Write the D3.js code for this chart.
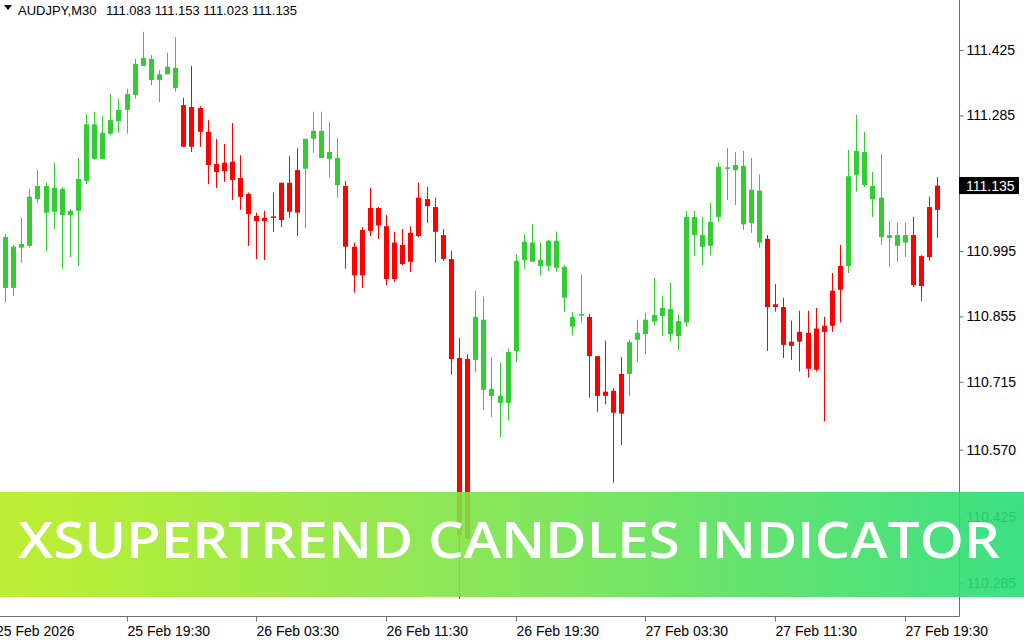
<!DOCTYPE html>
<html><head><meta charset="utf-8">
<script src="https://cdn.jsdelivr.net/npm/d3@7"></script>
<style>html,body{margin:0;padding:0;background:#fff;overflow:hidden}svg{display:block}</style>
</head><body>
<script>
// ---------- data ----------
const symbolTitle = "AUDJPY,M30";
const headerValues = ["111.083", "111.153", "111.023", "111.135"];
const opens = [111.025,110.916,111.002,111.006,111.106,111.134,111.079,111.128,111.072,111.081,
  111.145,111.266,111.192,111.246,111.273,111.297,111.329,111.391,111.406,111.361,
  111.373,111.387,111.307,111.303,111.250,111.250,111.181,111.166,111.186,111.151,
  111.117,111.070,111.059,111.067,111.061,111.141,111.077,111.171,111.235,111.252,
  111.192,111.194,111.134,111.004,110.943,111.038,111.087,111.048,110.935,111.008,
  110.972,111.027,111.106,111.089,111.029,110.978,110.766,110.379,110.762,110.848,
  110.700,110.685,110.670,110.781,110.976,111.013,110.976,110.963,111.017,110.961,
  110.854,110.857,110.854,110.770,110.685,110.696,110.647,110.732,110.805,110.817,
  110.844,110.856,110.871,110.813,110.842,111.068,111.029,111.006,111.068,111.172,
  111.168,111.177,111.055,111.124,111.021,110.875,110.875,110.792,110.801,110.820,
  110.741,110.835,110.835,110.912,110.963,111.158,111.207,111.134,111.109,111.023,
  111.029,111.013,111.029,110.920,110.982,111.083];
const highs = [111.031,111.008,111.066,111.128,111.168,111.141,111.184,111.132,111.085,111.194,
  111.288,111.293,111.284,111.331,111.321,111.342,111.406,111.464,111.414,111.382,
  111.419,111.453,111.323,111.391,111.305,111.275,111.235,111.224,111.269,111.200,
  111.120,111.077,111.081,111.120,111.141,111.198,111.215,111.235,111.293,111.293,
  111.271,111.237,111.145,111.013,111.046,111.130,111.089,111.072,111.036,111.042,
  111.048,111.141,111.132,111.109,111.042,110.995,110.809,110.774,110.910,110.897,
  110.768,110.756,110.786,110.988,111.031,111.052,111.013,111.019,111.036,110.965,
  110.865,110.945,110.860,110.770,110.803,110.702,110.768,110.805,110.848,110.863,
  110.937,110.899,110.927,110.860,111.081,111.081,111.068,111.098,111.184,111.215,
  111.207,111.209,111.194,111.159,111.029,110.924,110.895,110.846,110.867,110.867,
  110.873,110.854,110.948,111.008,111.211,111.286,111.250,111.164,111.202,111.059,
  111.055,111.055,111.068,110.986,111.111,111.153];
const lows = [110.886,110.899,110.970,111.002,111.098,110.995,111.042,110.957,110.982,110.963,
  111.138,111.191,111.191,111.242,111.248,111.246,111.321,111.391,111.350,111.314,
  111.373,111.336,111.217,111.207,111.218,111.138,111.130,111.143,111.104,111.083,
  111.006,110.978,110.976,111.036,111.046,111.066,111.027,111.044,111.205,111.194,
  111.153,111.109,110.957,110.906,110.916,111.027,111.021,110.922,110.929,110.965,
  110.950,111.025,111.055,110.970,110.974,110.730,110.251,110.377,110.735,110.655,
  110.640,110.597,110.632,110.758,110.957,110.972,110.943,110.952,110.950,110.865,
  110.815,110.842,110.681,110.651,110.667,110.499,110.580,110.685,110.758,110.774,
  110.835,110.813,110.801,110.783,110.833,110.984,110.965,110.986,111.057,111.104,
  111.093,111.040,111.034,111.002,110.781,110.865,110.766,110.762,110.737,110.724,
  110.737,110.630,110.822,110.842,110.948,111.122,111.132,111.068,111.008,110.961,
  110.972,110.982,110.918,110.888,110.974,111.023];
const closes = [110.916,111.004,111.010,111.111,111.134,111.077,111.130,111.072,111.081,111.149,
  111.266,111.192,111.248,111.275,111.297,111.331,111.395,111.408,111.361,111.373,
  111.389,111.344,111.218,111.218,111.301,111.179,111.164,111.184,111.147,111.111,
  111.074,111.059,111.066,111.069,111.141,111.079,111.168,111.235,111.252,111.194,
  111.207,111.136,111.004,110.943,111.040,111.087,111.050,110.935,111.013,110.967,
  111.034,111.109,111.091,111.036,110.978,110.764,110.387,110.764,110.854,110.698,
  110.685,110.670,110.779,110.974,111.015,110.972,110.963,111.017,110.959,110.895,
  110.833,110.860,110.770,110.685,110.694,110.649,110.732,110.800,110.820,110.848,
  110.858,110.873,110.817,110.845,111.068,111.029,111.004,111.057,111.175,111.174,
  111.179,111.052,111.126,111.013,110.875,110.881,110.794,110.801,110.822,110.743,
  110.829,110.822,110.910,110.963,111.155,111.209,111.136,111.106,111.025,111.029,
  111.006,111.029,110.922,110.984,111.089,111.135];
// supertrend direction per bar: u = up (green), d = down (red)
const trend = ["uuuuuuuuuuuuuuuuuuuuuu", "ddddddddddddddd", "uuuuu", "dddddddddddddddd",
  "uuuuuuuuuuuuuu", "ddddd", "uuuuuuuuuuuuuuuuu", "dddddddddd", "uuuuuuuu", "dddd"].join("");
const yTickValues = [111.425, 111.285, 110.995, 110.855, 110.715, 110.570, 110.425, 110.285];
const xTickIndex = [15, 31, 47, 63, 79, 95, 111];
const xTickLabels = ["25 Feb 19:30", "26 Feb 03:30", "26 Feb 11:30", "26 Feb 19:30",
  "27 Feb 03:30", "27 Feb 11:30", "27 Feb 19:30"];
const firstDateLabel = "25 Feb 2026";
const lastPrice = 111.135;
const bannerText = "XSUPERTREND CANDLES INDICATOR";

// ---------- layout ----------
const W = 1024, H = 640, plotRight = 959, plotBottom = 616;
const UP = "#32cd32", DOWN = "#ff0000", AXIS = "#707070";
const axisFont = "'Liberation Sans', Arial, sans-serif";

const bars = opens.map((o, i) => ({ i, o, h: highs[i], l: lows[i], c: closes[i], t: trend[i] }));

const x = d3.scaleLinear().domain([0, bars.length - 1]).range([5, 937.3]);
const y = d3.scaleLinear().domain([110.214, 111.532]).range([plotBottom, 0]);

const svg = d3.select("body").append("svg").attr("width", W).attr("height", H);
svg.append("rect").attr("width", W).attr("height", H).attr("fill", "#fff");

// candles
const cg = svg.append("g");
const cand = cg.selectAll("g.c").data(bars).join("g").attr("class", "c");
cand.append("line")
  .attr("x1", d => Math.round(x(d.i)) + 0.5).attr("x2", d => Math.round(x(d.i)) + 0.5)
  .attr("y1", d => y(d.h)).attr("y2", d => y(d.l))
  .attr("stroke", d => d.t === "u" ? UP : DOWN).attr("stroke-width", 1);
cand.append("rect")
  .attr("x", d => Math.round(x(d.i)) - 2).attr("width", 5)
  .attr("y", d => y(Math.max(d.o, d.c)))
  .attr("height", d => Math.max(1.5, Math.abs(y(d.o) - y(d.c))))
  .attr("fill", d => d.t === "u" ? UP : DOWN);

// frame lines
svg.append("line").attr("x1", plotRight + 0.5).attr("x2", plotRight + 0.5).attr("y1", 0).attr("y2", plotBottom + 0.5)
  .attr("stroke", AXIS).attr("stroke-width", 1);
svg.append("line").attr("x1", 0).attr("x2", plotRight + 0.5).attr("y1", plotBottom + 0.5).attr("y2", plotBottom + 0.5)
  .attr("stroke", AXIS).attr("stroke-width", 1);

// right price axis
const ya = svg.append("g").attr("transform", `translate(${plotRight + 0.5},0)`)
  .call(d3.axisRight(y).tickValues(yTickValues).tickSize(4).tickPadding(3).tickFormat(d3.format(".3f")));
ya.select(".domain").remove();
ya.selectAll(".tick line").attr("stroke", AXIS);
ya.selectAll(".tick text").attr("font-family", axisFont).attr("font-size", 14).attr("fill", "#000");

// bottom time axis
const xa = svg.append("g").attr("transform", `translate(0,${plotBottom + 0.5})`)
  .call(d3.axisBottom(x).tickValues(xTickIndex).tickSize(5).tickPadding(5)
    .tickFormat((d, k) => xTickLabels[k]));
xa.select(".domain").remove();
xa.selectAll(".tick").attr("transform", d => `translate(${Math.round(x(d)) + 0.5},0)`);
xa.selectAll(".tick line").attr("stroke", AXIS);
xa.selectAll(".tick text").attr("font-family", axisFont).attr("font-size", 14).attr("fill", "#000")
  .attr("text-anchor", "start").attr("x", 0);
svg.append("text").attr("x", x(0) - 9).attr("y", plotBottom + 20)
  .attr("font-family", axisFont).attr("font-size", 14).attr("fill", "#000").text(firstDateLabel);

// last price label
const lp = svg.append("g").attr("transform", `translate(${plotRight},${y(lastPrice)})`);
lp.append("rect").attr("x", 0).attr("y", -8.5).attr("width", 60).attr("height", 17).attr("fill", "#000");
lp.append("text").attr("x", 7).attr("y", 0).attr("dy", "0.36em")
  .attr("font-family", axisFont).attr("font-size", 14).attr("fill", "#fff").text(d3.format(".3f")(lastPrice));

// header
svg.append("path").attr("d", "M4,5 L12,5 L8,10 Z").attr("fill", "#000");
svg.append("text").attr("x", 18).attr("y", 15).attr("font-family", axisFont).attr("font-size", 13)
  .attr("fill", "#000").text(symbolTitle);
svg.append("text").attr("x", 106).attr("y", 15).attr("font-family", axisFont).attr("font-size", 13)
  .attr("fill", "#000").text(headerValues.join(" "));

// banner
const defs = svg.append("defs");
const grad = defs.append("linearGradient").attr("id", "bannerGrad").attr("x1", 0).attr("x2", 1).attr("y1", 0).attr("y2", 0);
grad.append("stop").attr("offset", "0%").attr("stop-color", "#b6ed1c");
grad.append("stop").attr("offset", "50%").attr("stop-color", "#79e34a");
grad.append("stop").attr("offset", "100%").attr("stop-color", "#27dd77");
svg.append("rect").attr("x", 0).attr("y", 492).attr("width", W).attr("height", 105)
  .attr("fill", "url(#bannerGrad)").attr("opacity", 0.9);
svg.append("text").attr("x", 18).attr("y", 558)
  .attr("font-family", "'Open Sans', 'DejaVu Sans', sans-serif").attr("font-weight", 600)
  .attr("font-size", 50).attr("fill", "#fff")
  .attr("textLength", 982).attr("lengthAdjust", "spacingAndGlyphs")
  .text(bannerText);
</script>
</body></html>
